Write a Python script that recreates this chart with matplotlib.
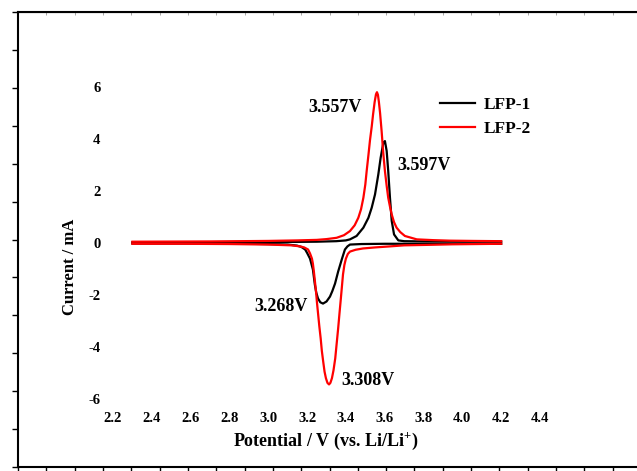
import matplotlib
matplotlib.use('Agg')
import matplotlib.pyplot as plt
from matplotlib.lines import Line2D

plt.rcParams['font.family'] = ['Liberation Serif', 'DejaVu Serif']
plt.rcParams['font.weight'] = 'bold'
plt.rcParams['mathtext.fontset'] = 'custom'
plt.rcParams['mathtext.rm'] = 'Liberation Serif:bold'
plt.rcParams['mathtext.it'] = 'Liberation Serif:bold'

# 数据
x_ticks = [2.2, 2.4, 2.6, 2.8, 3.0, 3.2, 3.4, 3.6, 3.8, 4.0, 4.2, 4.4]
y_ticks = [-6, -4, -2, 0, 2, 4, 6]

# LFP-1 正扫（氧化）
lfp1_ox_v = [2.30, 2.60, 2.90, 3.10, 3.25, 3.35, 3.40, 3.421, 3.455, 3.49, 3.516, 3.533, 3.55,
             3.567, 3.579, 3.593, 3.601, 3.61, 3.618, 3.627, 3.636, 3.648, 3.67, 3.70, 3.80,
             4.00, 4.20]
lfp1_ox_i = [0.03, 0.03, 0.04, 0.04, 0.05, 0.07, 0.10, 0.14, 0.27, 0.59, 0.97, 1.36, 1.87,
             2.64, 3.28, 3.86, 3.92, 3.54, 2.77, 1.74, 0.85, 0.33, 0.10, 0.07, 0.06,
             0.05, 0.05]
# LFP-1 反扫（还原）
lfp1_red_v = [4.20, 3.90, 3.60, 3.48, 3.421, 3.408, 3.395, 3.38, 3.36, 3.344, 3.33, 3.318, 3.30,
              3.282, 3.268, 3.256, 3.247, 3.24, 3.23, 3.215, 3.20, 3.19, 3.17, 3.148, 3.10, 3.06,
              2.90, 2.60, 2.30]
lfp1_red_i = [-0.03, -0.03, -0.03, -0.04, -0.06, -0.13, -0.25, -0.60, -1.10, -1.56, -1.85, -2.06, -2.25,
              -2.33, -2.28, -2.13, -1.90, -1.60, -1.02, -0.60, -0.38, -0.25, -0.15, -0.10, -0.06, -0.05,
              -0.03, -0.02, -0.02]

# LFP-2 正扫（氧化）
lfp2_ox_v = [2.30, 2.70, 3.00, 3.15, 3.25, 3.30, 3.352, 3.39, 3.421, 3.445, 3.464, 3.478, 3.49,
             3.50, 3.507, 3.516, 3.524, 3.533, 3.54, 3.548, 3.555, 3.56, 3.565, 3.57, 3.576,
             3.584, 3.592, 3.601, 3.61, 3.618, 3.627, 3.636, 3.648, 3.661, 3.68, 3.704, 3.765,
             3.85, 3.936, 4.05, 4.20]
lfp2_ox_i = [0.05, 0.06, 0.08, 0.10, 0.12, 0.15, 0.20, 0.30, 0.46, 0.68, 0.97, 1.30, 1.74,
             2.25, 2.77, 3.38, 3.95, 4.48, 4.95, 5.42, 5.72, 5.80, 5.70, 5.42, 5.00,
             4.30, 3.50, 2.77, 2.20, 1.74, 1.40, 1.10, 0.80, 0.59, 0.42, 0.27, 0.14,
             0.11, 0.09, 0.08, 0.07]
# LFP-2 反扫（还原）
lfp2_red_v = [4.20, 3.95, 3.833, 3.70, 3.627, 3.55, 3.488, 3.45, 3.421, 3.41, 3.40, 3.392, 3.385,
              3.374, 3.367, 3.36, 3.352, 3.345, 3.336, 3.328, 3.32, 3.313, 3.305, 3.297, 3.29,
              3.283, 3.276, 3.27, 3.263, 3.257, 3.251, 3.246, 3.24, 3.235, 3.23, 3.225, 3.215,
              3.205, 3.185, 3.163, 3.12, 3.00, 2.80, 2.55, 2.30]
lfp2_red_i = [-0.03, -0.05, -0.07, -0.09, -0.13, -0.17, -0.21, -0.26, -0.33, -0.42, -0.60, -0.85, -1.21,
              -2.13, -2.70, -3.29, -3.90, -4.44, -4.90, -5.20, -5.38, -5.44, -5.38, -5.20, -4.95,
              -4.56, -4.15, -3.67, -3.20, -2.75, -2.30, -1.87, -1.45, -1.10, -0.80, -0.60, -0.40,
              -0.25, -0.17, -0.13, -0.09, -0.06, -0.04, -0.03, -0.03]

fig = plt.figure(figsize=(6.37, 4.71), dpi=100)
W, H = 637.0, 471.0

# 外框（只有刻度，没有标签）
ax0 = fig.add_axes([18 / W, 4 / H, 623 / W, 455 / H])
ax0.set_xlim(0, 22)
ax0.set_ylim(0, 12)
ax0.set_xticks(range(23))
ax0.set_yticks(range(13))
ax0.tick_params(axis='both', labelbottom=False, labelleft=False)
ax0.tick_params(axis='x', direction='out', length=4, width=1.0, bottom=True, top=False)
ax0.tick_params(axis='y', direction='out', length=4.5, width=1.0, left=True, right=False)
ax0.spines['right'].set_visible(False)
for s in ['left', 'top', 'bottom']:
    ax0.spines[s].set_linewidth(1.5)
ax_top = ax0.secondary_xaxis('top')
ax_top.set_xticks(range(23))
ax_top.tick_params(direction='in', length=2, width=0.6, color='#999999', labeltop=False)

# 数据区
ax = fig.add_axes([113 / W, 72 / H, 427 / W, 312 / H])
ax.patch.set_alpha(0)
ax.plot(lfp1_ox_v, lfp1_ox_i, color='black', lw=1.6)
ax.plot(lfp1_red_v, lfp1_red_i, color='black', lw=1.6)
ax.plot(lfp2_ox_v, lfp2_ox_i, color='red', lw=1.6)
ax.plot(lfp2_red_v, lfp2_red_i, color='red', lw=1.6)
ax.set_xlim(2.2, 4.4)
ax.set_ylim(-6, 6)
ax.set_xticks(x_ticks)
ax.set_xticklabels(['%.1f' % v for v in x_ticks])
ax.set_yticks(y_ticks)
ax.set_yticklabels([str(v) for v in y_ticks])
ax.tick_params(axis='x', length=0, pad=9, labelsize=10.5)
ax.tick_params(axis='y', length=0, pad=9, labelsize=10.5)
for s in ax.spines.values():
    s.set_visible(False)

# 峰值标注
ax.text(3.344, 5.23, '3.557V', ha='center', va='center', fontsize=13, fontweight='bold')
ax.text(3.802, 3.0, '3.597V', ha='center', va='center', fontsize=13, fontweight='bold')
ax.text(3.066, -2.46, '3.268V', ha='center', va='center', fontsize=13, fontweight='bold')
ax.text(3.514, -5.27, '3.308V', ha='center', va='center', fontsize=13, fontweight='bold')

fig.text(326 / W, 1 - 441 / H, r'Potential / V (vs. Li/Li$^{+}$)', ha='center', va='center',
         fontsize=13, fontweight='bold')
fig.text(70 / W, 1 - 267 / H, 'Current / mA', ha='center', va='center', rotation=90,
         fontsize=12, fontweight='bold')

handles = [Line2D([], [], color='black', lw=1.6), Line2D([], [], color='red', lw=1.6)]
ax.legend(handles, ['LFP-1', 'LFP-2'], loc='upper left', bbox_to_anchor=(440 / W, 1 - 97 / H),
          bbox_transform=fig.transFigure, frameon=False, borderpad=0, borderaxespad=0,
          handlelength=2.0, handletextpad=0.5, labelspacing=0.45,
          prop={'family': 'Liberation Serif', 'weight': 'bold', 'size': 12.5})

fig.savefig('out.png', dpi=100)
